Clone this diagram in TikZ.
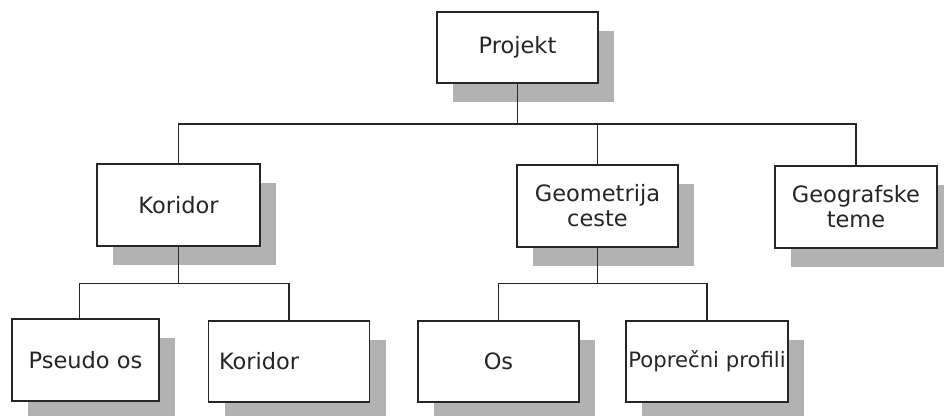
\documentclass[tikz,border=0pt]{standalone}
\usepackage{fontspec}
\setmainfont{DejaVu Sans}
\usetikzlibrary{shadows}

\tikzset{
	box/.style={draw=black!85, line width=1.5pt, fill=white, text=black!85,
		minimum width=161pt, minimum height=82pt, align=center,
		font=\fontsize{22.5}{25}\selectfont,
		drop shadow={shadow xshift=16pt, shadow yshift=-19pt, fill=black!30, opacity=1}},
	link/.style={draw=black!85, line width=1.5pt}
}

\begin{document}
\begin{tikzpicture}[x=1pt,y=-1pt]
		
		\useasboundingbox (0,0) rectangle (944,415);
		
		% top
		\node[box, minimum height=71pt] (projekt) at (517.5,47.5) {Projekt};
		
		% second row
		\node[box, minimum width=163pt] (koridor) at (178.5,205) {Koridor};
		\node[box] (geometrija) at (597.5,206) {Geometrija\\ceste};
		\node[box, minimum width=162pt] (geografske) at (856,207) {Geografske\\teme};
		
		% third row
		\node[box, minimum width=147pt] (pseudo) at (85.5,360) {Pseudo os};
		\node[box, text width=140pt, align=left, inner xsep=10pt, minimum height=81pt] (koridordio) at (289,361.5) {Koridor};
		\node[box, minimum height=81pt] (os) at (498.5,361.5) {Os};
		\node[box, minimum width=162pt, minimum height=81pt, inner xsep=1pt, font=\fontsize{21.2}{25}\selectfont] (profili) at (707,361.5) {Popre\v{c}ni profili};
		
		% busses
		\coordinate (busA) at (0,124);
		\coordinate (busB) at (0,283.5);
		
		% projekt -> second row
		\draw[link] (projekt.south) -- (projekt.south |- busA);
		\draw[link] (koridor.north) |- (busA -| geografske.north) -- (geografske.north);
		\draw[link] (geometrija.north) -- (geometrija.north |- busA);
		
		% koridor -> third row
		\draw[link] (koridor.south) -- (koridor.south |- busB);
		\draw[link] ([xshift=-6pt]pseudo.north) |- (busB -| koridordio.north) -- (koridordio.north);
		
		% geometrija -> third row
		\draw[link] (geometrija.south) -- (geometrija.south |- busB);
		\draw[link] (os.north) |- (busB -| profili.north) -- (profili.north);
		
	\end{tikzpicture}
\end{document}
